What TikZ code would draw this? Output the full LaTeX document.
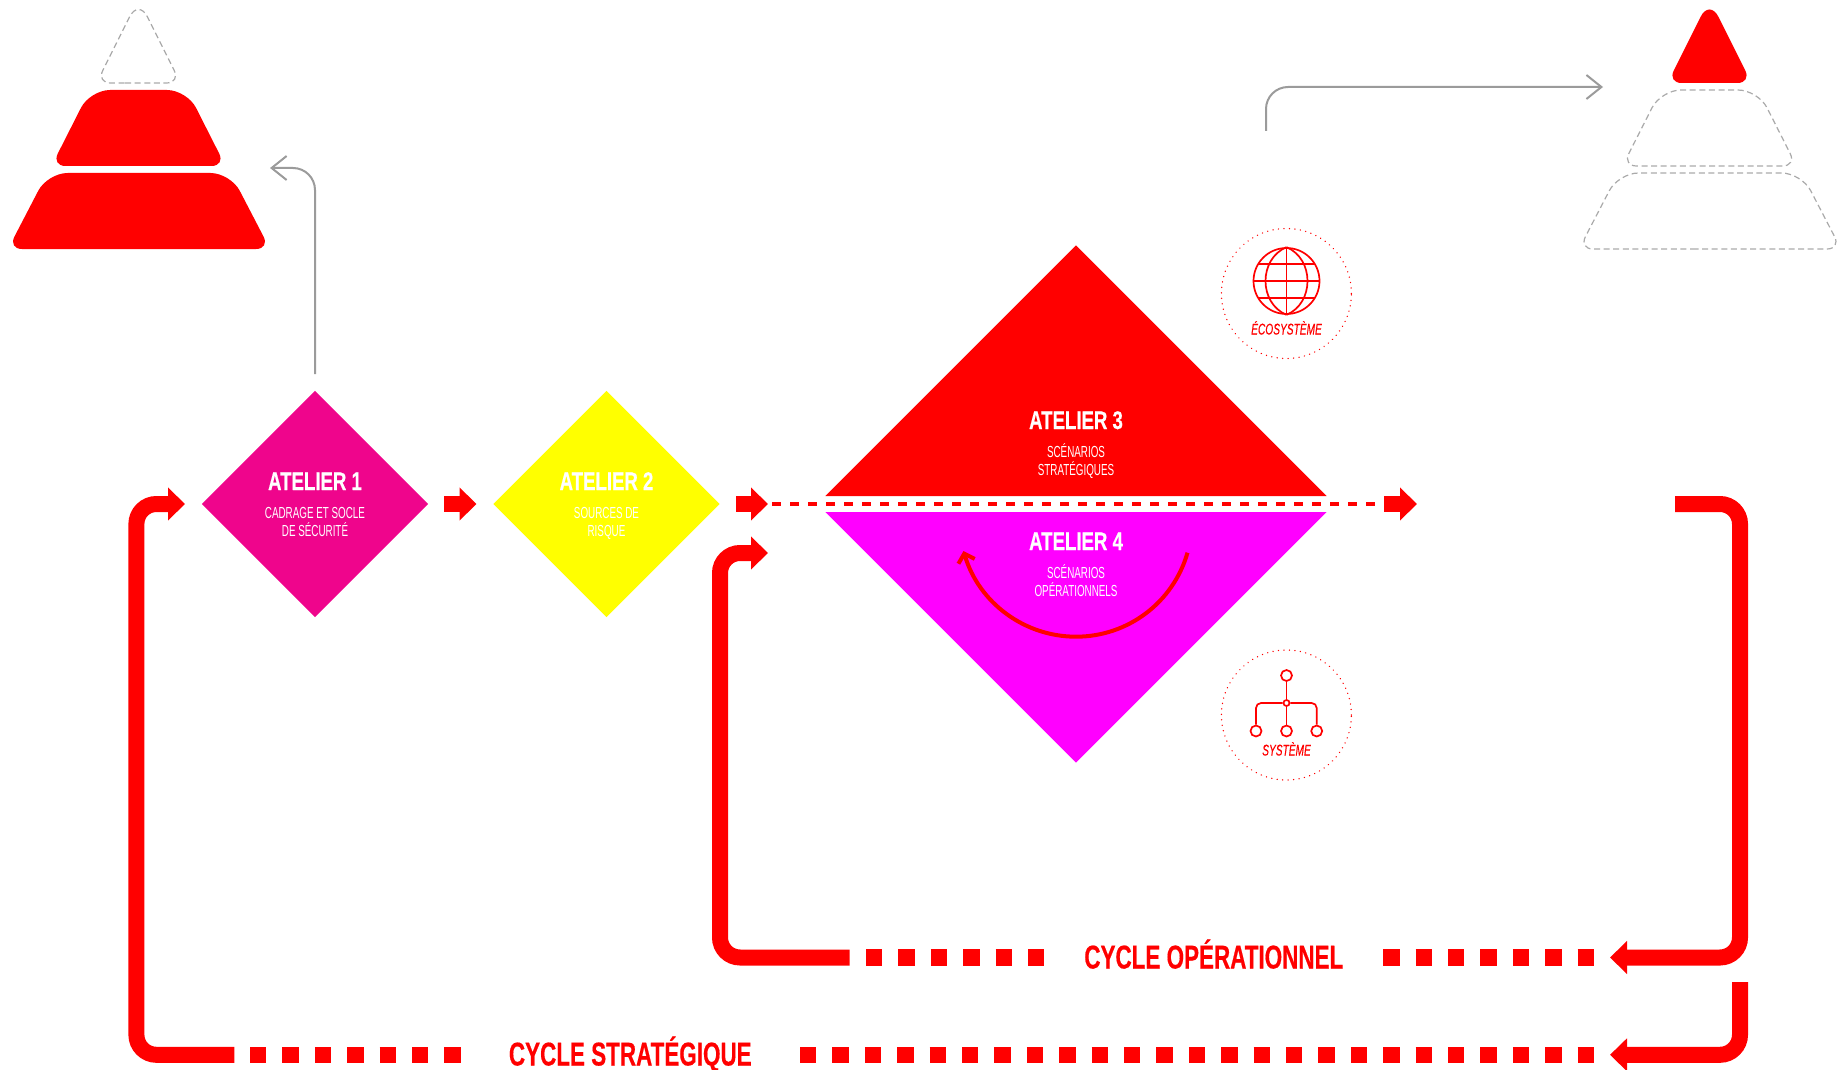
\documentclass[tikz,border=0pt]{standalone}
\usepackage{fontspec}
\usetikzlibrary{shapes.geometric,arrows.meta}
\setmainfont{Liberation Sans}
\newfontfamily\condB[FakeStretch=0.73,FakeBold=0.4]{Liberation Sans}
\newfontfamily\condR[FakeStretch=0.615]{Liberation Sans}
\newfontfamily\condC[FakeStretch=0.68,FakeBold=0.4]{Liberation Sans}
\newfontfamily\condI[FakeStretch=0.656,FakeBold=0.3]{Liberation Sans}
\definecolor{aone}{HTML}{EF058C}
\definecolor{atwo}{HTML}{FFFF00}
\definecolor{afour}{HTML}{FF00FF}
\definecolor{pred}{HTML}{FF0000}
\definecolor{gline}{HTML}{9B9B9B}
\definecolor{gdash}{HTML}{AAAAAA}
\tikzset{
  atelier/.style={diamond,aspect=1,inner sep=0pt,minimum width=226.5pt,minimum height=226.5pt},
  title/.style={anchor=base,text=white,inner sep=0pt,font=\condB\bfseries\fontsize{25.5pt}{30pt}\selectfont},
  subt/.style={anchor=base,text=white,inner sep=0pt,align=center,font=\condR\fontsize{16pt}{18pt}\selectfont},
  cycletxt/.style={anchor=base,text=pred,inner sep=0pt,font=\condC\bfseries\fontsize{33pt}{38pt}\selectfont},
  icontxt/.style={anchor=base,text=pred,inner sep=0pt,font=\condI\itshape\fontsize{15.5pt}{18pt}\selectfont},
  ring/.style={circle,draw=pred,line width=1.4pt,line cap=round,dash pattern=on 0.1pt off 5.4pt,minimum size=130pt,inner sep=0pt},
  blockarrow/.style={draw=pred,line width=16pt,-{Triangle[length=17pt,width=32pt]}},
  thick/.style={draw=pred,line width=16pt,rounded corners=20pt},
  thicktip/.style={thick,-{Triangle[length=17pt,width=32pt]}},
  squares/.style={draw=pred,line width=16.3pt,dash pattern=on 16.4pt off 16pt},
  grayarrow/.style={draw=gline,line width=2pt,rounded corners=22pt,-{Straight Barb[length=15pt,width=24pt,line width=2pt]}},
  pdash/.style={draw=gdash,line width=1.2pt,dash pattern=on 6pt off 3.6pt},
  pfill/.style={fill=pred},
  icon/.style={draw=pred,line width=1.7pt},
}
\newcommand{\pyrtop}[1]{(#1+138.5,83) [rounded corners=14pt] -- (#1+96.5,83) [rounded corners=20pt] -- (#1+138.5,-1) [rounded corners=14pt] -- (#1+180.5,83) -- cycle}
\newcommand{\pyrmid}[1]{(#1+138.5,166) [rounded corners=14pt] -- (#1+51.5,166) [rounded corners=20pt] -- (#1+90,90) -- (#1+187,90) [rounded corners=14pt] -- (#1+225.5,166) -- cycle}
\newcommand{\pyrbot}[1]{(#1+139,249) [rounded corners=14pt] -- (#1+8,249) [rounded corners=20pt] -- (#1+47.5,173) -- (#1+230.5,173) [rounded corners=14pt] -- (#1+270,249) -- cycle}
\begin{document}
\begin{tikzpicture}[x=1pt,y=-1pt]
\useasboundingbox (0,0) rectangle (1837,1070);
% pyramids
\draw[pdash] \pyrtop{0};
\fill[pfill] \pyrmid{0};
\fill[pfill] \pyrbot{0};
\fill[pfill] \pyrtop{1571};
\draw[pdash] \pyrmid{1571};
\draw[pdash] \pyrbot{1571};
% workshops
\node[atelier,fill=aone] (a1) at (315,504) {};
\node[atelier,fill=atwo] (a2) at (606.5,504) {};
\coordinate (a34w) at (825.3,504);
\coordinate (a34e) at (1326.7,504);
\fill[pred] (825.3,496) -- (1076,245.3) -- (1326.7,496) -- cycle;
\fill[afour] (825.3,512) -- (1076,762.7) -- (1326.7,512) -- cycle;
\node[title] (t1) at (315,490) {ATELIER 1};
\node[subt] (s1) at (315,536.5) {CADRAGE ET SOCLE\\DE SÉCURITÉ};
\node[title] (t2) at (606.5,490) {ATELIER 2};
\node[subt] (s2) at (606.5,536.5) {SOURCES DE\\RISQUE};
\node[title] (t3) at (1076,429) {ATELIER 3};
\node[subt] (s3) at (1076,475.5) {SCÉNARIOS\\STRATÉGIQUES};
\node[title] (t4) at (1076,550) {ATELIER 4};
\node[subt] (s4) at (1076,596.5) {SCÉNARIOS\\OPÉRATIONNELS};
% inner loop
\coordinate (l1) at (1187.5,552.7);
\coordinate (l2) at (1076,636.7);
\coordinate (l3) at (963.5,551);
\draw[draw=pred,line width=4pt,-{Straight Barb[length=8pt,width=17pt,line width=4pt]}] (l1) .. controls (1173.2,602.5) and (1127.8,636.7) .. (l2) .. controls (1024.2,636.7) and (978.8,602.5) .. (l3);
% gray arrows
\coordinate (g1) at (315,374);
\coordinate (g1b) at (315,168);
\coordinate (g1e) at (270,168);
\draw[grayarrow] (g1) -- (g1b) -- (g1e);
\coordinate (g2) at (1266,131);
\coordinate (g2b) at (1266,87);
\coordinate (g2e) at (1603,87);
\draw[grayarrow] (g2) -- (g2b) -- (g2e);
% small arrows
\draw[blockarrow,shorten <=16pt,shorten >=16.5pt] (a1) -- (a2);
\coordinate (b1) at (736,504);
\coordinate (b2) at (768,504);
\draw[blockarrow] (b1) -- (b2);
\coordinate (d1) at (772,504);
\coordinate (d2) at (1380,504);
\draw[draw=pred,line width=4pt,dash pattern=on 9pt off 9pt] (d1) -- (d2);
\coordinate (b3) at (1384,504);
\coordinate (b4) at (1417,504);
\draw[blockarrow] (b3) -- (b4);
% strategic cycle
\coordinate (c1) at (234.3,1054.8);
\coordinate (c2) at (136.4,1054.8);
\coordinate (c3) at (136.4,504);
\coordinate (c4) at (185,504);
\draw[thicktip] (c1) -- (c2) -- (c3) -- (c4);
\coordinate (c5) at (250,1054.8);
\coordinate (c6) at (461,1054.8);
\draw[squares] (c5) -- (c6);
\coordinate (c7) at (800,1054.8);
\coordinate (c8) at (1594.4,1054.8);
\draw[squares] (c7) -- (c8);
\coordinate (c9) at (1740,982);
\coordinate (c10) at (1740,1054.8);
\coordinate (c11) at (1610,1054.8);
\draw[thicktip] (c9) -- (c10) -- (c11);
% operational cycle
\coordinate (o1) at (849.5,957.5);
\coordinate (o2) at (720,957.5);
\coordinate (o3) at (720,553);
\coordinate (o4) at (768,553);
\draw[thicktip] (o1) -- (o2) -- (o3) -- (o4);
\coordinate (o5) at (866,957.5);
\coordinate (o6) at (1045,957.5);
\draw[squares] (o5) -- (o6);
\coordinate (o7) at (1383.2,957.5);
\coordinate (o8) at (1594.4,957.5);
\draw[squares] (o7) -- (o8);
\coordinate (o9) at (1675,504);
\coordinate (o10) at (1740,504);
\coordinate (o11) at (1740,957.5);
\coordinate (o12) at (1610,957.5);
\draw[thicktip] (o9) -- (o10) -- (o11) -- (o12);
\node[cycletxt] (co) at (1213.8,968.5) {CYCLE OPÉRATIONNEL};
\node[cycletxt] (cs) at (630.3,1065.5) {CYCLE STRATÉGIQUE};
% ecosystem
\node[ring] (eco) at (1286.4,293.5) {};
\node[circle,icon,minimum size=66pt,inner sep=0pt] (gl) at (1286.5,281) {};
\draw[icon] (gl.north) -- (gl.south);
\draw[icon] (gl.north) .. controls (1258.5,281-22) and (1258.5,281+22) .. (gl.south);
\draw[icon] (gl.north) .. controls (1314.5,281-22) and (1314.5,281+22) .. (gl.south);
\draw[icon] (gl.west) -- (gl.east);
\draw[icon] (1258.5,264) -- (1314.5,264);
\draw[icon] (1258.5,298) -- (1314.5,298);
\node[icontxt] (ecot) at (1286.5,334.5) {ÉCOSYSTÈME};
% system
\node[ring] (sys) at (1286.4,715) {};
\node[circle,icon,minimum size=11pt,inner sep=0pt] (n0) at (1286.5,675.5) {};
\node[circle,icon,minimum size=6pt,inner sep=0pt] (nc) at (1286.5,703) {};
\node[circle,icon,minimum size=11pt,inner sep=0pt] (n1) at (1256,731) {};
\node[circle,icon,minimum size=11pt,inner sep=0pt] (n2) at (1286.5,731) {};
\node[circle,icon,minimum size=11pt,inner sep=0pt] (n3) at (1316.7,731) {};
\draw[icon] (n0) -- (nc);
\draw[icon] (nc) -- (n2);
\draw[icon,rounded corners=5pt] (nc) -| (n1);
\draw[icon,rounded corners=5pt] (nc) -| (n3);
\node[icontxt] (syst) at (1286.5,755.5) {SYSTÈME};
\end{tikzpicture}
\end{document}
